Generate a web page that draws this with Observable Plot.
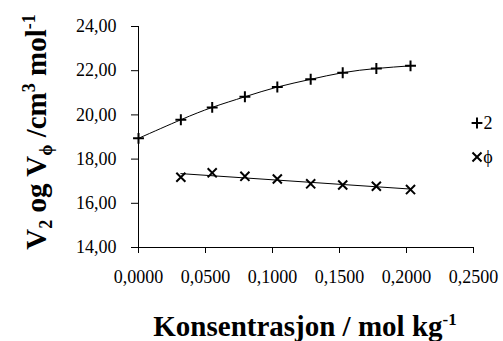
<!DOCTYPE html>
<html>
<head>
<meta charset="utf-8">
<script src="https://cdn.jsdelivr.net/npm/d3@7"></script>
<script src="https://cdn.jsdelivr.net/npm/@observablehq/plot@0.6"></script>
<style>
  html, body { margin: 0; padding: 0; background: #fff; }
  #chart { width: 503px; height: 341px; }
</style>
</head>
<body>
<div id="chart"></div>
<script>
// Series "2" (V2), plus markers
const conc2 = [0, 0.0316, 0.0550, 0.0794, 0.1036, 0.1285, 0.1524, 0.1775, 0.2030];
const v2 = [18.94, 19.78, 20.34, 20.82, 21.26, 21.61, 21.91, 22.10, 22.22];
// Series "φ" (Vφ), times markers
const concPhi = [0.0316, 0.0550, 0.0794, 0.1036, 0.1285, 0.1524, 0.1775, 0.2030];
const vPhi = [17.18, 17.38, 17.22, 17.10, 16.88, 16.83, 16.77, 16.62];
// Ticks
const xTicks = [0, 0.05, 0.10, 0.15, 0.20, 0.25];
const yTicks = [14, 16, 18, 20, 22, 24];
const seriesNames = ["2", "\u03d5"];

const data2 = conc2.map((c, i) => ({x: c, y: v2[i]}));
const dataPhi = concPhi.map((c, i) => ({x: c, y: vPhi[i]}));
const comma = (d, n) => d.toFixed(n).replace(".", ",");

const font = "Liberation Serif";

const plot = Plot.plot({
  width: 503,
  height: 341,
  marginLeft: 138,
  marginRight: 30,
  marginTop: 26,
  marginBottom: 94,
  style: {background: "#fff", color: "#000", overflow: "visible"},
  x: {domain: [0, 0.25]},
  y: {domain: [14, 24]},
  marks: [
    Plot.axisX({ticks: xTicks, tickFormat: d => comma(d, 4), tickSize: 6, tickPadding: 17, label: null,
      fontFamily: font, fontSize: 18, stroke: "#000"}),
    Plot.axisY({ticks: yTicks, tickFormat: d => comma(d, 2), tickSize: 7, tickPadding: 15, label: null,
      fontFamily: font, fontSize: 18, stroke: "#000"}),
    Plot.ruleX([0], {stroke: "#000", strokeWidth: 1}),
    Plot.ruleY([14], {stroke: "#000", strokeWidth: 1}),
    Plot.line(data2, {x: "x", y: "y", curve: "natural", stroke: "#000", strokeWidth: 1}),
    Plot.linearRegressionY(dataPhi, {x: "x", y: "y", ci: 0, stroke: "#000", strokeWidth: 1}),
    Plot.dot(data2, {x: "x", y: "y", symbol: "plus", r: 3.6, stroke: "#000", strokeWidth: 2}),
    Plot.dot(dataPhi, {x: "x", y: "y", symbol: "times", r: 4.2, stroke: "#000", strokeWidth: 2})
  ]
});
document.getElementById("chart").appendChild(plot);

const svg = d3.select(plot);
svg.attr("font-family", font);

// X axis title
const xt = svg.append("text")
  .attr("x", 305).attr("y", 336)
  .attr("text-anchor", "middle")
  .attr("font-family", font).attr("font-weight", "bold").attr("font-size", 29)
  .attr("fill", "#000");
xt.append("tspan").text("Konsentrasjon / mol kg");
xt.append("tspan").attr("dy", -11).attr("font-size", 17).text("-1");

// Y axis title (rotated)
const yt = svg.append("text")
  .attr("transform", "translate(46,132) rotate(-90)")
  .attr("text-anchor", "middle")
  .attr("font-family", font).attr("font-weight", "bold").attr("font-size", 29)
  .attr("fill", "#000");
yt.append("tspan").text("V");
yt.append("tspan").attr("dy", 6).attr("font-size", 18).text("2");
yt.append("tspan").attr("dy", -6).text(" og V");
yt.append("tspan").attr("dy", 6).attr("font-size", 18).text("\u03d5");
yt.append("tspan").attr("dy", -6).text(" /cm");
yt.append("tspan").attr("dy", -11).attr("font-size", 18).text("3");
yt.append("tspan").attr("dy", 11).text(" mol");
yt.append("tspan").attr("dy", -11).attr("font-size", 18).text("-1");

// Legend
const legendY = [123, 157];
const symbols = [d3.symbolPlus, d3.symbolTimes];
seriesNames.forEach((name, i) => {
  svg.append("path")
    .attr("transform", `translate(477,${legendY[i]})`)
    .attr("d", d3.symbol(symbols[i], i === 0 ? 40 : 55)())
    .attr("fill", "none").attr("stroke", "#000").attr("stroke-width", 2);
  svg.append("text")
    .attr("x", 488).attr("y", legendY[i]).attr("dy", "0.35em")
    .attr("font-family", font).attr("font-size", 18)
    .attr("fill", "#000").text(name);
});
</script>
</body>
</html>
